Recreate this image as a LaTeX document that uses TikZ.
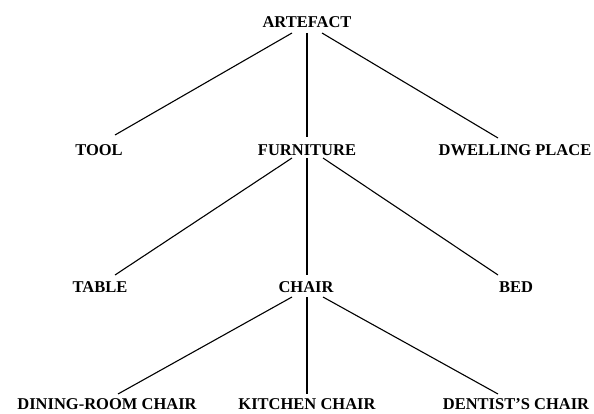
\documentclass[tikz,border=0pt]{standalone}
\usepackage{fontspec}
\setmainfont{Liberation Serif}
\begin{document}
\begin{tikzpicture}[x=1pt,y=-1pt,
  lbl/.style={font=\fontsize{16.5}{18}\selectfont\bfseries, inner sep=0pt, anchor=center},
  edge/.style={line width=1.1pt, black}]
\useasboundingbox (0,0) rectangle (594,414);
% nodes
\node[lbl] (art) at (307,22) {ARTEFACT};
\node[lbl] (tool) at (99,150) {TOOL};
\node[lbl] (furn) at (307,150) {FURNITURE};
\node[lbl] (dwell) at (515,150) {DWELLING PLACE};
\node[lbl] (table) at (100,287) {TABLE};
\node[lbl] (chair) at (306,287) {CHAIR};
\node[lbl] (bed) at (516,287) {BED};
\node[lbl] (dining) at (107,404) {DINING-ROOM CHAIR};
\node[lbl] (kitchen) at (307,404) {KITCHEN CHAIR};
\node[lbl] (dentist) at (516,404) {DENTIST'S CHAIR};
% connectors
\draw[edge] ([shift={(-15,11)}]art.center) -- ([shift={(16,-15)}]tool.center);
\draw[edge] ([shift={(0,11)}]art.center) -- ([shift={(0,-13)}]furn.center);
\draw[edge] ([shift={(15,11)}]art.center) -- ([shift={(-17,-12)}]dwell.center);
\draw[edge] ([shift={(-15,8)}]furn.center) -- ([shift={(15,-12)}]table.center);
\draw[edge] ([shift={(0,8)}]furn.center) -- ([shift={(1,-12)}]chair.center);
\draw[edge] ([shift={(16,8)}]furn.center) -- ([shift={(-18,-12)}]bed.center);
\draw[edge] ([shift={(-14,10)}]chair.center) -- ([shift={(11,-10)}]dining.center);
\draw[edge] ([shift={(1,10)}]chair.center) -- ([shift={(0,-10)}]kitchen.center);
\draw[edge] ([shift={(17,10)}]chair.center) -- ([shift={(-18,-10)}]dentist.center);
\end{tikzpicture}
\end{document}
